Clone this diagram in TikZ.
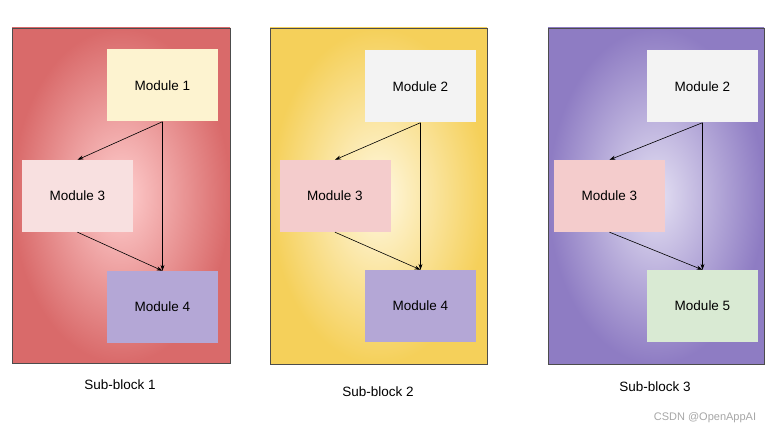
\documentclass[tikz,border=0pt]{standalone}
\usepackage{fontspec}
\setmainfont{Liberation Sans}
\usetikzlibrary{arrows.meta}
\definecolor{cyel}{HTML}{FDF3D0}
\definecolor{cgray}{HTML}{F3F3F3}
\definecolor{cpink}{HTML}{F4CCCC}
\definecolor{cpurp}{HTML}{B4A7D6}
\definecolor{cgreen}{HTML}{D9EAD3}
\begin{document}
\begin{tikzpicture}[x=1pt,y=-1pt,
  mod/.style={draw=none,minimum width=111pt,minimum height=72pt,inner sep=0pt,font=\fontsize{13.5}{15}\selectfont},
  panel/.style={draw=black!70,line width=0.5pt},
  arr/.style={-{Stealth[length=6pt,width=4pt]},line width=0.6pt},
  lab/.style={font=\fontsize{13.5}{15}\selectfont}]
\useasboundingbox (0,0) rectangle (780,433);
\shade[inner color=red!10!white!90!red, outer color={rgb,255:red,217;green,106;blue,106}] (12,28) rectangle (230,363);
\draw[panel] (12,28) rectangle (230,363);
\shade[inner color={rgb,255:red,255;green,248;blue,225}, outer color={rgb,255:red,245;green,208;blue,90}] (270,28) rectangle (487,364);
\draw[panel] (270,28) rectangle (487,364);
\shade[inner color={rgb,255:red,228;green,224;blue,243}, outer color={rgb,255:red,142;green,124;blue,195}] (548,28) rectangle (764,364);
\draw[panel] (548,28) rectangle (764,364);

\node[mod,fill=cyel] (a1) at (162.5,85.5) {Module 1};
\node[mod,fill=cpink!60!white] (a3) at (77.5,196) {Module 3};
\node[mod,fill=cpurp] (a4) at (162.5,307) {Module 4};
\draw[arr] (a1.south) -- (a3.north);
\draw[arr] (a1.south) -- (a4.north);
\draw[arr] (a3.south) -- (a4.north);

\node[mod,fill=cgray] (b2) at (420.5,86.5) {Module 2};
\node[mod,fill=cpink] (b3) at (335,196) {Module 3};
\node[mod,fill=cpurp] (b4) at (420.5,306) {Module 4};
\draw[arr] (b2.south) -- (b3.north);
\draw[arr] (b2.south) -- (b4.north);
\draw[arr] (b3.south) -- (b4.north);

\node[mod,fill=cgray] (c2) at (702.5,86.5) {Module 2};
\node[mod,fill=cpink] (c3) at (609.5,196) {Module 3};
\node[mod,fill=cgreen] (c5) at (702.5,306) {Module 5};
\draw[arr] (c2.south) -- (c3.north);
\draw[arr] (c2.south) -- (c5.north);
\draw[arr] (c3.south) -- (c5.north);

\node[lab] (l1) at (120,385) {Sub-block 1};
\node[lab] (l2) at (378,392) {Sub-block 2};
\node[lab] (l3) at (655,387) {Sub-block 3};
\node[font=\fontsize{11}{13}\selectfont,text=black!35] (wm) at (705,418) {CSDN @OpenAppAI};
\end{tikzpicture}
\end{document}
